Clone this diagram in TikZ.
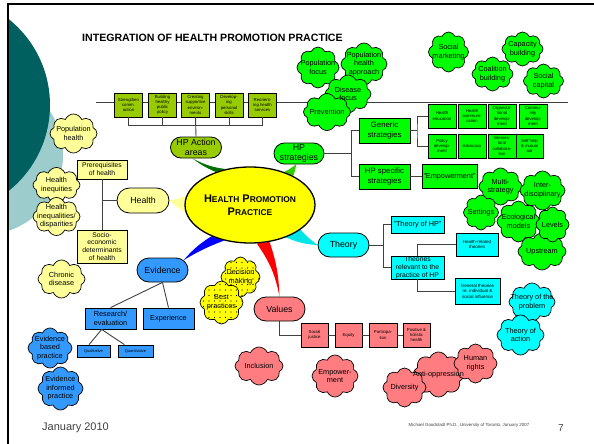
\documentclass[tikz,border=0pt]{standalone}
\usepackage{fontspec}
\setmainfont{Liberation Sans}
\usetikzlibrary{shapes.symbols,shapes.misc,shapes.geometric,backgrounds,patterns.meta}

\definecolor{hpolive}{HTML}{99CC00}
\definecolor{hpgreen}{HTML}{00FF00}
\definecolor{hpyel}{HTML}{FFFF00}
\definecolor{hplyel}{HTML}{FFFF99}
\definecolor{hpblue}{HTML}{3399FF}
\definecolor{hpcyan}{HTML}{00FFFF}
\definecolor{hppink}{HTML}{FF7C80}
\definecolor{tealdk}{HTML}{006060}
\definecolor{teallt}{HTML}{9CCCCC}
\definecolor{spkdg}{HTML}{007000}
\definecolor{spkg}{HTML}{33CC00}
\definecolor{spkc}{HTML}{00E5E5}
\definecolor{linegray}{HTML}{404040}
\definecolor{footgray}{HTML}{404040}

\newcommand\smc[1]{{\fontsize{8.4}{13}\selectfont #1}}
% caption of a cloud, set on top of every cloud shape
\newcommand\cloudtext[2]{\node[ct] (#1-t) at (#1) {#2};}

\tikzset{
  conn/.style={draw=linegray, line width=0.9},
  pill/.style={rounded rectangle, draw, line width=0.8, inner sep=0, align=center,
    font=\fontsize{8.8}{10}\selectfont},
  sbox/.style={rectangle, draw, line width=0.8, inner sep=0, align=center},
  tinybox/.style={sbox, minimum width=28, minimum height=24, font=\fontsize{4.3}{5.2}\selectfont},
  cl/.style={cloud, cloud puffs=8, cloud puff arc=135, cloud ignores aspect, draw,
    line width=0.7, fill=#1, inner sep=0},
  ct/.style={font=\fontsize{7.3}{8.6}\selectfont, align=center, inner sep=0},
  dotcl/.style={cl=hpyel, preaction={fill=hpyel}, pattern={Dots[distance=5.5pt,radius=0.6pt]}},
}

\begin{document}
\begin{tikzpicture}[x=1pt,y=-1pt]
\useasboundingbox (0,0) rectangle (594,444);

% slide decoration on the left edge
\begin{scope}
  \clip (8,0) rectangle (594,444);
  \fill[teallt] (-17,155) circle (80);
  \fill[tealdk] (-60,105) circle (110);
\end{scope}
\draw[line width=1.8] (594,4) -- (8,4) -- (8,444);

% title
\node[font=\bfseries\fontsize{10.6}{12}\selectfont, anchor=west, inner sep=0] (title) at (82,38)
  {INTEGRATION OF HEALTH PROMOTION PRACTICE};

% long bar behind the action area boxes
\coordinate (barL) at (96,102);
\coordinate (barR) at (568,102);
\draw[conn] (barL) -- (barR);

% ---------------- top clouds ----------------
\node[cl=hpgreen, minimum width=42, minimum height=41] (pf) at (318,67.5) {};
\node[cl=hpgreen, minimum width=46, minimum height=42] (pha) at (364,64) {};
\node[cl=hpgreen, minimum width=46, minimum height=38] (df) at (348,94) {};
\node[cl=hpgreen, minimum width=47, minimum height=37] (pv) at (327,112) {};

\node[cl=hpgreen, minimum width=40, minimum height=40] (sm) at (448.5,52) {};
\node[cl=hpgreen, minimum width=41, minimum height=34] (cb) at (522.5,49) {};
\node[cl=hpgreen, minimum width=41, minimum height=34] (co) at (492.5,74) {};
\node[cl=hpgreen, minimum width=40, minimum height=34] (scap) at (543.5,81) {};

% ---------------- HP action areas ----------------
\node[tinybox, fill=hpolive] (a1) at (128.5,105) {Strengthen\\comm.\\action};
\node[tinybox, fill=hpolive] (a2) at (162.5,105) {Building\\healthy\\public\\policy};
\node[tinybox, fill=hpolive] (a3) at (195.5,105) {Creating\\supportive\\environ-\\ments};
\node[tinybox, fill=hpolive] (a4) at (229,105) {Develop-\\ing\\personal\\skills};
\node[tinybox, fill=hpolive] (a5) at (262.5,105) {Reorient-\\ing health\\services};
\node[pill, fill=hpolive, minimum width=51, minimum height=21] (ha) at (196,147.5) {HP Action\\areas};
\coordinate (abar) at (196,125);
\draw[conn] (a1.south) -- (a1.south |- abar) -- (a5.south |- abar) -- (a5.south);
\draw[conn] (a2.south) -- (a2.south |- abar);
\draw[conn] (a4.south) -- (a4.south |- abar);
\draw[conn] (a3.south) -- (ha.north);

% ---------------- HP strategies ----------------
\node[pill, fill=hpgreen, minimum width=50, minimum height=21] (hps) at (299,153.5) {HP\\strategies};
\node[sbox, fill=hpgreen, minimum width=51, minimum height=25, font=\fontsize{7.8}{9.4}\selectfont] (gen) at (384.5,130.5) {Generic\\strategies};
\node[sbox, fill=hpgreen, minimum width=51, minimum height=25, font=\fontsize{7.8}{9.4}\selectfont] (spec) at (384.5,176.5) {HP specific\\strategies};
\node[sbox, fill=hpgreen, minimum width=55, minimum height=24, font=\fontsize{7.3}{8.6}\selectfont] (empw) at (449.5,176.5) {"Empowerment"};
\draw[conn] (gen.west) -- ++(-7,0) coordinate (sj) |- (spec.west);
\draw[conn] (hps.east) -- (hps.east -| sj);
\draw[conn] (spec.east) -- (empw.west);

\node[tinybox, fill=hpgreen] (ga) at (442,116) {Health\\education};
\node[tinybox, fill=hpgreen] (gb) at (472,116) {Health\\communi-\\cation};
\node[tinybox, fill=hpgreen] (gc) at (502,116) {Organiza-\\tional\\develop-\\ment};
\node[tinybox, fill=hpgreen] (gd) at (533,116) {Commu-\\nity\\develop-\\ment};
\node[tinybox, fill=hpgreen] (ge) at (442,146) {Policy\\develop-\\ment};
\node[tinybox, fill=hpgreen] (gf) at (472,146) {Advocacy};
\node[tinybox, fill=hpgreen] (gg) at (502,146) {Intersec-\\toral\\collabora-\\tion};
\node[tinybox, fill=hpgreen, minimum width=27] (gh) at (529.5,146) {Self help\\\& mutual\\aid};
\coordinate (gj) at (417,130.5);
\draw[conn] (gen.east) -- (gj);
\draw[conn] (ga.west) -| (gj) |- (ge.west);

% ---------------- right cloud cluster ----------------
\node[cl=hpgreen, minimum width=48, minimum height=37] (up) at (542,251.5) {};
\node[cl=hpgreen, minimum width=43, minimum height=37] (ms) at (500.5,186.5) {};
\node[cl=hpgreen, minimum width=45, minimum height=39] (idc) at (542.5,190.5) {};
\node[cl=hpgreen, minimum width=35, minimum height=35] (st) at (481,212.5) {};
\node[cl=hpgreen, minimum width=43, minimum height=41] (eco) at (518.5,221.5) {};
\node[cl=hpgreen, minimum width=33, minimum height=35] (lv) at (552.5,224.5) {};

% ---------------- theory ----------------
\node[pill, fill=hpcyan, minimum width=51, minimum height=24] (th) at (343.5,245) {Theory};
\node[sbox, fill=hpcyan, minimum width=53, minimum height=17, font=\fontsize{7.3}{8.6}\selectfont] (thp) at (417.5,224.5) {"Theory of HP"};
\node[sbox, fill=hpcyan, minimum width=53, minimum height=23, font=\fontsize{6.8}{7.8}\selectfont] (trel) at (417.5,267.5) {Theories\\relevant to the\\practice of HP};
\node[sbox, fill=hpcyan, minimum width=42, minimum height=23, font=\fontsize{4.5}{5.4}\selectfont] (hrt) at (477,244.5) {Health-related\\theories};
\node[sbox, fill=hpcyan, minimum width=45, minimum height=26, font=\fontsize{4.5}{5.4}\selectfont] (gth) at (477.5,291) {General theories\\re. individual \&\\social  influence};
\draw[conn] (th.east) -- ++(14,0) coordinate (tj);
\draw[conn] (thp.west) -| (tj) |- (trel.west);
\draw[conn] (trel.north) |- (hrt.west);
\draw[conn] (trel.south) |- (gth.west);

\node[cl=hpcyan, minimum width=46, minimum height=38] (tp) at (532,302) {};
\node[cl=hpcyan, minimum width=47, minimum height=40] (ta) at (520.5,335) {};

% ---------------- health ----------------
\node[cl=hplyel, minimum width=47, minimum height=39] (poph) at (73.5,133.5) {};
\node[cl=hplyel, minimum width=47, minimum height=35] (hineq) at (56.5,185) {};
\node[cl=hplyel, minimum width=47, minimum height=38] (hdisp) at (56.5,216.5) {};
\node[cl=hplyel, minimum width=47, minimum height=38] (chd) at (61.5,279) {};

\node[pill, fill=hplyel, minimum width=52, minimum height=25] (hl) at (143,200.5) {Health};
\node[sbox, fill=hplyel, minimum width=50, minimum height=19, font=\fontsize{6.8}{7.9}\selectfont] (pre) at (102,169.5) {Prerequisites\\of health};
\node[sbox, fill=hplyel, minimum width=50, minimum height=33, font=\fontsize{6.8}{7.9}\selectfont] (soc) at (102,246.5) {Socio-\\economic\\determinants\\of health};
\draw[conn] (pre.south) -- (soc.north);
\draw[conn] (hl.west) -- (hl.west -| pre.south);

% ---------------- evidence ----------------
\node[pill, fill=hpblue, minimum width=51, minimum height=24] (ev) at (162.5,270) {Evidence};
\node[sbox, fill=hpblue, minimum width=51, minimum height=21, font=\fontsize{7.3}{8.6}\selectfont] (res) at (110.5,318.5) {Research/\\evaluation};
\node[sbox, fill=hpblue, minimum width=51, minimum height=21, font=\fontsize{7.3}{8.6}\selectfont] (exper) at (168.5,318.5) {Experience};
\node[sbox, fill=hpblue, minimum width=33, minimum height=12, font=\fontsize{4}{5}\selectfont] (qual) at (93.5,351) {Qualitative};
\node[sbox, fill=hpblue, minimum width=35, minimum height=12, font=\fontsize{4}{5}\selectfont] (quant) at (135.5,351) {Quantitative};
\draw[conn] (ev.south) -- (res.north);
\draw[conn] (ev.south) -- (exper.north);
\draw[conn] (res.-129) -- (qual.125);
\draw[conn] (res.-129) -- (quant.150);

\node[cl=hpblue, minimum width=44, minimum height=40] (ebp) at (50,348) {};
\node[cl=hpblue, minimum width=45, minimum height=43] (eip) at (60.5,388.5) {};

% ---------------- decision making / best practices ----------------
\node[dotcl, minimum width=39, minimum height=40] (dm) at (240.5,277) {};
\node[dotcl, minimum width=43, minimum height=43] (bp) at (221.5,302.5) {};

% ---------------- values ----------------
\node[pill, fill=hppink, minimum width=51, minimum height=24] (va) at (279.5,309) {Values};
\node[tinybox, fill=hppink, minimum width=27] (vsj) at (314.5,335) {Social\\justice};
\node[tinybox, fill=hppink, minimum width=27] (veq) at (348.5,335) {Equity};
\node[tinybox, fill=hppink] (vpa) at (383,335) {Participa-\\tion};
\node[tinybox, fill=hppink, minimum width=27] (vph) at (416.5,335) {Positive \&\\holistic\\health};
\draw[conn] (va.south) |- (vsj.west);
\draw[conn] (vsj.east) -- (veq.west);
\draw[conn] (veq.east) -- (vpa.west);
\draw[conn] (vpa.east) -- (vph.west);

\node[cl=hppink, minimum width=48, minimum height=38] (inc) at (259,366) {};
\node[cl=hppink, minimum width=46, minimum height=42] (empc) at (335,376) {};
\node[cl=hppink, minimum width=51, minimum height=45] (ao) at (438.5,374.5) {};
\node[cl=hppink, minimum width=43, minimum height=39] (dv) at (404.5,387.5) {};
\node[cl=hppink, minimum width=43, minimum height=39] (hr) at (475.5,363.5) {};

% ---------------- cloud captions ----------------
\cloudtext{pf}{Population\\focus}
\cloudtext{pha}{Population\\health\\approach}
\cloudtext{df}{Disease\\focus}
\cloudtext{pv}{Prevention}
\cloudtext{sm}{Social\\marketing}
\cloudtext{cb}{Capacity\\building}
\cloudtext{co}{Coalition\\building}
\cloudtext{scap}{Social\\capital}
\cloudtext{up}{Upstream}
\cloudtext{ms}{Multi-\\strategy}
\cloudtext{idc}{Inter-\\disciplinary}
\cloudtext{st}{Settings}
\cloudtext{eco}{Ecological\\models}
\cloudtext{lv}{Levels}
\cloudtext{tp}{Theory of the\\problem}
\cloudtext{ta}{Theory of\\action}
\cloudtext{poph}{Population\\health}
\cloudtext{hineq}{Health\\inequities}
\cloudtext{hdisp}{Health\\inequalities/\\disparities}
\cloudtext{chd}{Chronic\\disease}
\cloudtext{ebp}{Evidence\\based\\practice}
\cloudtext{eip}{Evidence\\informed\\practice}
\cloudtext{dm}{Decision\\making}
\cloudtext{bp}{Best\\practices}
\cloudtext{inc}{Inclusion}
\cloudtext{empc}{Empower-\\ment}
\cloudtext{ao}{Anti-oppression}
\cloudtext{dv}{Diversity}
\cloudtext{hr}{Human\\rights}

% ---------------- central topic ----------------
\node[ellipse, draw, line width=1.3, fill=hpyel, minimum width=100, minimum height=76, inner sep=0,
  align=center, font=\bfseries\fontsize{11}{13}\selectfont] (hpp) at (250,205)
  {H\smc{EALTH} P\smc{ROMOTION}\\P\smc{RACTICE}};

% tapering branches from the central topic
\begin{scope}[on background layer]
  \fill[spkdg]  (hpp.124) to[bend left=10] (ha.-108)  to[bend right=7] (hpp.136) -- cycle;
  \fill[spkg]   (hpp.34)  to[bend right=8] (hps.-105) to[bend left=5] (hpp.44) -- cycle;
  \fill[hplyel] (hpp.172) to[bend left=5] (hl.east)  to[bend right=5] (hpp.187) -- cycle;
  \fill[blue]   (hpp.219) to[bend right=8] (ev.25)   to[bend left=5] (hpp.234) -- cycle;
  \fill[red]    (hpp.280) to[bend left=12] (va.north) to[bend right=8] (hpp.298) -- cycle;
  \fill[spkc]   (hpp.318) to[bend right=10] (th.west) to[bend left=6] (hpp.334) -- cycle;
\end{scope}

% ---------------- footer ----------------
\node[anchor=west, inner sep=0, text=footgray, font=\fontsize{11}{13}\selectfont] (date) at (42,428) {January 2010};
\node[inner sep=0, text=footgray, font=\fontsize{4.4}{5}\selectfont] (credit) at (469,425) {Michael Goodstadt Ph.D., University of Toronto, January 2007};
\node[inner sep=0, text=footgray, font=\fontsize{10}{12}\selectfont] (pageno) at (561,428) {7};
\end{tikzpicture}
\end{document}
